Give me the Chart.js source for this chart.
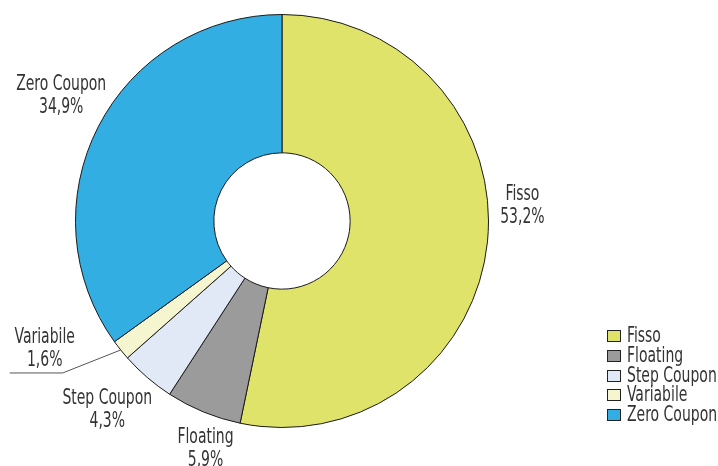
<!DOCTYPE html>
<html>
<head>
    <title>Composizione</title>
    <script src="https://cdn.jsdelivr.net/npm/chart.js@4.4.5/dist/chart.umd.min.js"></script>
    <style>
        body { margin: 0; background: #fff; }
        #wrap { position: relative; width: 718px; height: 466px; }
        #legend { position: absolute; left: 607px; top: 326px; font-family: 'DejaVu Sans Condensed', 'DejaVu Sans', sans-serif; font-size: 21px; color: #333; }
        #legend div { height: 19.8px; line-height: 19.8px; white-space: nowrap; }
        #legend .box { display: inline-block; width: 12px; height: 10px; border: 1px solid #222; margin-right: 6px; vertical-align: 0px; }
        #legend .txt { display: inline-block; transform: scaleX(0.74); transform-origin: left center; }
    </style>
</head>
<body>
    <div id="wrap">
        <canvas id="pieChart" width="718" height="466"></canvas>
        <div id="legend"></div>
    </div>

    <script>
        const labels = ['Fisso', 'Floating', 'Step Coupon', 'Variabile', 'Zero Coupon'];
        const values = [53.2, 5.9, 4.3, 1.6, 34.9];
        const colors = ['#e0e36a', '#9b9b9b', '#e1e8f6', '#f5f5d0', '#33aee3'];

        // where each label sits relative to the outer edge of its slice
        const labelNudge = [[35, -36], [2, 37], [-40, 33], [-76, -1], [-37, -31]];

        const FONT = "21px 'DejaVu Sans Condensed', 'DejaVu Sans', sans-serif";
        const SQUEEZE = 0.74;

        function narrowText(ctx, text, x, y) {
            ctx.save();
            ctx.translate(x, y);
            ctx.scale(SQUEEZE, 1);
            ctx.fillText(text, 0, 0);
            ctx.restore();
        }

        const outsideLabels = {
            id: 'outsideLabels',
            afterDraw(chart) {
                const ctx = chart.ctx;
                const arcs = chart.getDatasetMeta(0).data;
                ctx.save();
                ctx.font = FONT;
                ctx.fillStyle = '#333';
                ctx.textAlign = 'center';
                ctx.textBaseline = 'middle';
                arcs.forEach((arc, i) => {
                    const mid = (arc.startAngle + arc.endAngle) / 2;
                    const ax = arc.x + Math.cos(mid) * arc.outerRadius;
                    const ay = arc.y + Math.sin(mid) * arc.outerRadius;
                    const cx = ax + labelNudge[i][0];
                    const cy = ay + labelNudge[i][1];
                    narrowText(ctx, labels[i], cx, cy - 11.5);
                    narrowText(ctx, values[i].toFixed(1).replace('.', ',') + '%', cx, cy + 11.5);
                    if (labels[i] === 'Variabile') {
                        // leader line + underline
                        ctx.strokeStyle = '#555';
                        ctx.lineWidth = 1;
                        ctx.beginPath();
                        ctx.moveTo(ax, ay);
                        ctx.lineTo(cx + 18, cy + 24);
                        ctx.lineTo(cx - 35, cy + 24);
                        ctx.stroke();
                    }
                });
                ctx.restore();
            }
        };

        new Chart(document.getElementById('pieChart'), {
            type: 'doughnut',
            data: {
                labels: labels,
                datasets: [{
                    data: values,
                    backgroundColor: colors,
                    borderColor: '#1a1a1a',
                    borderWidth: 1
                }]
            },
            options: {
                responsive: false,
                animation: false,
                cutout: '33%',
                layout: { padding: { left: 75, right: 229, top: 14, bottom: 38 } },
                plugins: {
                    legend: { display: false },
                    tooltip: { enabled: false }
                }
            },
            plugins: [outsideLabels]
        });

        const legend = document.getElementById('legend');
        labels.forEach((l, i) => {
            const row = document.createElement('div');
            row.innerHTML = '<span class="box" style="background:' + colors[i] + '"></span><span class="txt">' + l + '</span>';
            legend.appendChild(row);
        });
    </script>
</body>
</html>
